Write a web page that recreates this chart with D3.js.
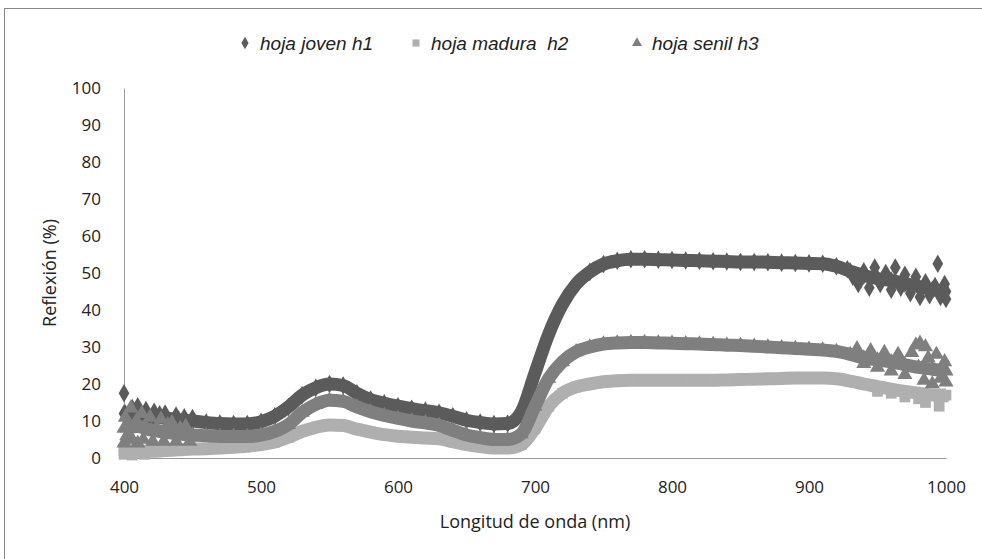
<!DOCTYPE html>
<html lang="es">
<head>
<meta charset="UTF-8">
<title>Reflexión espectral de hojas</title>
<script src="https://d3js.org/d3.v7.min.js"></script>
<style>
  body { margin: 0; background: #fff; }
  text { font-family: 'Open Sans', 'Noto Sans', sans-serif; fill: #222; }
  .legend text { font-family: 'Liberation Sans', Arial, sans-serif; font-style: italic; }
</style>
</head>
<body>
<div id="chart"></div>
<script>
  // longitudes de onda (nm), cada 10 nm
  const wavelengths = d3.range(400, 1001, 10);

  // hoja joven h1
  const h1 = [12, 12, 11, 10.8, 10.3, 10, 9.6, 9.3, 9.2, 9.2,
    9.8, 11.3, 13.8, 17, 19, 20, 19.6, 17.5, 15.8, 14.8,
    14, 13.3, 12.8, 12.2, 11.3, 10.2, 9.6, 9.2, 9.3, 12.5,
    23, 33.5, 41.5, 47, 50.3, 52.4, 53.3, 53.7, 53.7, 53.6,
    53.5, 53.4, 53.3, 53.2, 53.1, 53, 53, 52.9, 52.8, 52.7,
    52.6, 52.5, 51.8, 50.5, 49.3, 48.5, 48, 47.2, 46.3, 45.5, 45];

  // hoja madura h2
  const h2 = [2, 1.8, 1.8, 2, 2.2, 2.4, 2.5, 2.7, 2.9, 3.2,
    3.6, 4.3, 5.6, 7.2, 8.3, 8.9, 8.8, 7.8, 7, 6.3,
    5.9, 5.6, 5.4, 5.2, 4.4, 3.6, 3.1, 2.7, 2.7, 3.6,
    8, 14, 17.5, 19.2, 20, 20.6, 20.9, 21, 21, 21,
    21, 21, 21, 21, 21.1, 21.2, 21.3, 21.4, 21.5, 21.6,
    21.6, 21.6, 21.4, 20.8, 20, 19.3, 18.6, 18, 17.5, 17, 17];

  // hoja senil h3
  const h3 = [8, 8.5, 7.5, 7, 6.5, 6.2, 6, 5.8, 5.8, 5.8,
    6.2, 7.2, 9, 12.3, 14.5, 15.6, 15.3, 13.8, 12.5, 11.5,
    10.7, 10, 9.5, 8.8, 7.5, 6.2, 5.5, 5, 5, 6.5,
    14, 21.5, 26, 28.7, 30, 30.8, 31.1, 31.2, 31.2, 31.1,
    31, 30.9, 30.8, 30.7, 30.5, 30.4, 30.2, 30, 29.8, 29.6,
    29.4, 29.2, 28.8, 28, 27, 26.5, 26, 25.2, 24.5, 24, 23.5];

  // puntos dispersos (ruido en los extremos) [nm, %]
  const h1Scatter = [[400, 17.5], [401, 12], [404, 10], [406, 13.5], [408, 11], [410, 14], [414, 10.5],
    [416, 13], [420, 10], [422, 12.5], [426, 11.8], [430, 12], [434, 10], [438, 11.5], [444, 11],
    [450, 10.8], [928, 51], [932, 49], [936, 47], [940, 50.5], [944, 46], [948, 51.5], [952, 47],
    [956, 50], [960, 45.5], [963, 51.5], [967, 46], [970, 49.5], [974, 44.5], [978, 49], [981, 43.5],
    [985, 47.5], [988, 44], [992, 46.5], [994, 52.5], [996, 43.5], [999, 47], [1000, 43]];
  const h2Scatter = [[400, 1], [403, 3], [406, 0.8], [409, 2.5], [415, 1], [420, 2.5], [950, 18],
    [960, 17.5], [970, 16.5], [980, 16], [985, 15], [995, 14], [998, 16.5]];
  const h3Scatter = [[400, 4], [401, 11], [402, 6], [404, 9], [405, 13.5], [406, 5], [409, 10],
    [410, 4], [413, 12], [414, 5], [416, 8], [419, 11], [421, 4.5], [424, 8], [427, 10.5], [429, 4.5],
    [432, 9], [435, 9.5], [438, 4.5], [441, 8], [445, 8.5], [448, 4.5], [935, 29.5], [940, 25.5],
    [945, 29], [950, 24.5], [955, 28.5], [960, 23.5], [965, 28], [970, 22.5], [975, 28.5], [978, 30.5],
    [981, 31], [984, 21], [985, 30], [987, 27], [990, 20], [993, 28], [996, 21.5], [999, 26], [1000, 20.5]];

  const yTicks = d3.range(0, 101, 10);
  const xTicks = d3.range(400, 1001, 100);

  const series = [
    { name: "hoja joven h1", values: h1, scatter: h1Scatter, color: "#5b5b5b", symbol: d3.symbolDiamond, size: 62 },
    { name: "hoja madura  h2", values: h2, scatter: h2Scatter, color: "#afafaf", symbol: d3.symbolSquare, size: 72 },
    { name: "hoja senil h3", values: h3, scatter: h3Scatter, color: "#7f7f7f", symbol: d3.symbolTriangle, size: 62 }
  ];

  const width = 982, height = 559;
  const svg = d3.select("#chart").append("svg")
      .attr("width", width)
      .attr("height", height);

  // borde del gráfico
  svg.append("rect")
      .attr("x", 4.5).attr("y", 8.5)
      .attr("width", width).attr("height", height)
      .attr("fill", "none")
      .attr("stroke", "#888");

  const x = d3.scaleLinear().domain([400, 1000]).range([124, 946]);
  const y = d3.scaleLinear().domain([0, 100]).range([458, 88]);

  // ejes
  const xAxis = svg.append("g")
      .attr("transform", `translate(0,${y(0)})`)
      .call(d3.axisBottom(x).tickValues(xTicks).tickFormat(d3.format("d")).tickSize(0).tickPadding(23));
  xAxis.select(".domain").attr("stroke", "#999");
  xAxis.selectAll("text").attr("font-size", 17).attr("font-family", "'Open Sans', sans-serif").attr("fill", "#222");

  const yAxis = svg.append("g")
      .attr("transform", `translate(${x(400)},0)`)
      .call(d3.axisLeft(y).tickValues(yTicks).tickSize(0).tickPadding(23));
  yAxis.select(".domain").attr("stroke", "#999");
  yAxis.selectAll("text").attr("font-size", 17).attr("font-family", "'Open Sans', sans-serif").attr("fill", "#222");

  // títulos de ejes
  svg.append("text")
      .attr("x", x(700)).attr("y", 528)
      .attr("text-anchor", "middle")
      .attr("font-size", 18)
      .text("Longitud de onda (nm)");

  svg.append("text")
      .attr("transform", `translate(56,${y(50)}) rotate(-90)`)
      .attr("text-anchor", "middle")
      .attr("font-size", 18)
      .text("Reflexión (%)");

  // series: banda gruesa + marcadores
  const line = d3.line()
      .x((d, i) => x(wavelengths[i]))
      .y(d => y(d))
      .curve(d3.curveMonotoneX);

  series.forEach(s => {
    const g = svg.append("g");
    g.append("path")
        .datum(s.values)
        .attr("d", line)
        .attr("fill", "none")
        .attr("stroke", s.color)
        .attr("stroke-width", 13)
        .attr("stroke-linejoin", "round");

    const pts = s.values.map((v, i) => [wavelengths[i], v]).concat(s.scatter);
    g.selectAll("path.pt")
      .data(pts)
      .enter().append("path")
        .attr("class", "pt")
        .attr("d", d3.symbol().type(s.symbol).size(s.size * 1.6))
        .attr("transform", d => `translate(${x(d[0])},${y(d[1])})`)
        .attr("fill", s.color);
  });

  // leyenda
  const legendX = [245, 416, 637];
  const legend = svg.append("g").attr("class", "legend");
  series.forEach((s, i) => {
    legend.append("path")
        .attr("d", d3.symbol().type(s.symbol).size(s.size * 0.7))
        .attr("transform", `translate(${legendX[i]},${43})`)
        .attr("fill", s.color);
    legend.append("text")
        .attr("x", legendX[i] + 15)
        .attr("y", 50)
        .attr("font-size", 19)
        .attr("xml:space", "preserve")
        .style("white-space", "pre")
        .text(s.name);
  });
</script>
</body>
</html>
